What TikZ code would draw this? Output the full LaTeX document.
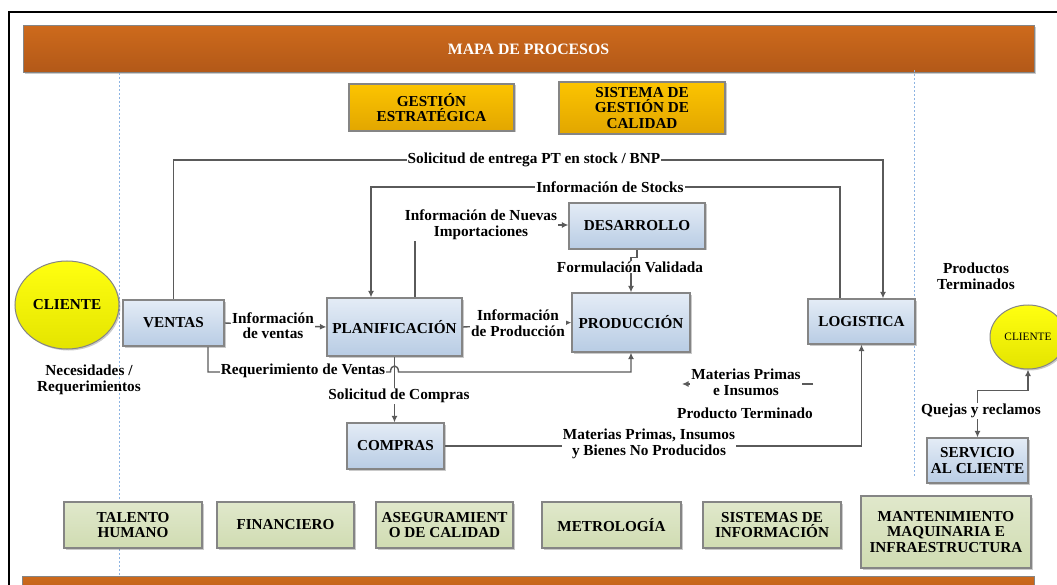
\documentclass[tikz,border=0pt]{standalone}
\usepackage{fontspec}
\setmainfont{Liberation Serif}
\usetikzlibrary{arrows.meta,backgrounds,shadows,shapes.geometric}
\definecolor{linegray}{HTML}{5A5A5A}
\definecolor{boxgray}{HTML}{858585}
\definecolor{orT}{HTML}{CD6A1C}
\definecolor{orB}{HTML}{B25818}
\definecolor{goT}{HTML}{FCC400}
\definecolor{goB}{HTML}{E2A600}
\definecolor{blT}{HTML}{E4ECF6}
\definecolor{blB}{HTML}{B8CCE4}
\definecolor{grT}{HTML}{E0E8CB}
\definecolor{grB}{HTML}{D0DCB2}
\definecolor{yeT}{HTML}{FFFF10}
\definecolor{yeB}{HTML}{E4E400}
\definecolor{dotblue}{HTML}{8DB4E2}
\newcommand\boxfnt{\fontsize{15.2}{15.7}\selectfont\bfseries}
\newcommand\lblfnt{\fontsize{15.3}{15.6}\selectfont\bfseries}
\tikzset{
  shad/.style={drop shadow={shadow xshift=1.5pt,shadow yshift=-1.5pt,opacity=0.35,fill=black!60}},
  basebox/.style={draw=boxgray,line width=1.2pt,align=center,font=\boxfnt,inner sep=0pt,shad},
  bluebox/.style={basebox,top color=blT,bottom color=blB},
  greenbox/.style={basebox,top color=grT,bottom color=grB},
  goldbox/.style={basebox,top color=goT,bottom color=goB},
  clientshape/.style={ellipse,draw=boxgray,line width=1pt,top color=yeT,bottom color=yeB,align=center,inner sep=0pt,shad},
  lbl/.style={font=\lblfnt,align=center,inner sep=1pt,fill=white},
  freetxt/.style={font=\lblfnt,align=center,inner sep=1pt},
  conn/.style={draw=linegray,line width=1.4pt},
  arr/.style={conn,-{Latex[length=6.5pt,width=6pt]}},
  arrboth/.style={conn,{Latex[length=6.5pt,width=6pt]}-{Latex[length=6.5pt,width=6pt]}},
  dotline/.style={draw=dotblue,line width=1pt,dash pattern=on 2pt off 2pt}
}
\begin{document}
\begin{tikzpicture}[x=1pt,y=-1pt]
\useasboundingbox (0,0) rectangle (1057,585);
\clip (0,0) rectangle (1057,585);
% outer frame
\draw[black,line width=2pt] (9,600) -- (9,12) -- (1070,12);
% banners
\node[draw=boxgray,line width=1pt,top color=orT,bottom color=orB,minimum width=1011pt,minimum height=47pt,inner sep=0pt,text=white,font=\fontsize{15.8}{16}\selectfont\bfseries,shad] (banner) at (528.5,49.5) {MAPA DE PROCESOS};
\node[draw=boxgray,line width=1pt,top color=orT,bottom color=orB,minimum width=1012pt,minimum height=30pt,inner sep=0pt] (bottombanner) at (528,591) {};
% dotted separators
\draw[dotline] (119,73) -- (119,576);
\draw[dotline] (914,70) -- (914,477);
% strategic boxes
\node[goldbox,minimum width=165pt,minimum height=47pt] (ge) at (431.5,107.5) {GESTIÓN\\ESTRATÉGICA};
\node[goldbox,minimum width=166pt,minimum height=52pt] (sgc) at (642,108) {SISTEMA DE\\GESTIÓN DE\\CALIDAD};
% clients
\node[clientshape,minimum width=104pt,minimum height=88pt,font=\boxfnt] (cli) at (67,305) {CLIENTE};
\node[clientshape,minimum width=76pt,minimum height=64pt,font=\fontsize{11.3}{12}\selectfont] (cli2) at (1028,337) {CLIENTE};
% core processes
\node[bluebox,minimum width=101pt,minimum height=46pt] (ven) at (173.5,323) {VENTAS};
\node[bluebox,minimum width=135pt,minimum height=58pt] (plan) at (394.5,327) {PLANIFICACIÓN};
\node[bluebox,minimum width=136pt,minimum height=46pt] (des) at (637,226) {DESARROLLO};
\node[bluebox,minimum width=118pt,minimum height=59pt] (prod) at (631,322.5) {PRODUCCIÓN};
\node[bluebox,minimum width=107pt,minimum height=45pt] (log) at (861.5,321.5) {LOGISTICA};
\node[bluebox,minimum width=97pt,minimum height=46pt] (comp) at (395.5,446) {COMPRAS};
\node[bluebox,minimum width=101pt,minimum height=45pt] (serv) at (977.5,460.5) {SERVICIO\\AL CLIENTE};
% support processes
\node[greenbox,minimum width=138pt,minimum height=46pt] (th) at (133,525) {TALENTO\\HUMANO};
\node[greenbox,minimum width=137pt,minimum height=46pt] (fin) at (285.5,525) {FINANCIERO};
\node[greenbox,minimum width=137pt,minimum height=46pt] (aseg) at (444.5,525) {ASEGURAMIENT\\O DE CALIDAD};
\node[greenbox,minimum width=139pt,minimum height=46pt] (metro) at (611.5,525) {METROLOGÍA};
\node[greenbox,minimum width=138pt,minimum height=46pt] (sist) at (772,525) {SISTEMAS DE\\INFORMACIÓN};
\node[greenbox,minimum width=170pt,minimum height=72pt] (mant) at (946,532) {MANTENIMIENTO\\MAQUINARIA E\\INFRAESTRUCTURA};
% connector labels
\node[lbl] (l1) at (534,160) {Solicitud de entrega PT en stock / BNP};
\node[lbl] (l2) at (610,187) {Información de Stocks};
\node[lbl] (l3) at (481,225) {Información de Nuevas\\Importaciones};
\node[lbl] (l4) at (630,267) {Formulación Validada};
\node[lbl] (l5) at (518,323.5) {Información\\de Producción};
\node[lbl] (l6) at (273,325.5) {Información\\de ventas};
\node[lbl] (l7) at (303,371) {Requerimiento de Ventas};
\node[lbl] (l8) at (399,396) {Solicitud de Compras};
\node[lbl] (l9) at (649,444) {Materias Primas, Insumos\\y Bienes No Producidos};
\node[lbl] (l10) at (746,382) {Materias Primas\\e Insumos};
\node[lbl] (l11) at (981,411) {Quejas y reclamos};
% free texts
\node[freetxt] (t1) at (745,413) {Producto Terminado};
\node[freetxt] (t2) at (976,276) {Productos\\Terminados};
\node[freetxt] (t3) at (89,380) {Necesidades /\\Requerimientos};
% helper coordinates
\coordinate (hopc) at (394.5,372);
\coordinate (mpa) at (813,384);
\coordinate (mpb) at (682,384);
% connectors
\begin{scope}[on background layer]
\draw[arr] (ven.north) |- (l1.center) -| ([xshift=21.5pt]log.north);
\draw[arr] ([xshift=-21.5pt]log.north) |- (l2.center) -| ([xshift=-23.5pt]plan.north);
\draw[conn] ([xshift=20.5pt]plan.north) -- ([xshift=20.5pt]plan.north |- l3.south);
\draw[arr] (l3.east) -- (des.west |- l3.east);
\draw[arr] (des.south) -- ([yshift=-8pt]des.south) -| (prod.north);
\draw[arr] (plan.east) -- (prod.west);
\draw[arr] (ven.east) -- (plan.west);
\draw[arr] ([xshift=34.5pt]ven.south) |- ([xshift=-4pt]hopc) .. controls ([xshift=-4pt,yshift=8pt]hopc) and ([xshift=4pt,yshift=8pt]hopc) .. ([xshift=4pt]hopc) -| (prod.south);
\draw[arr] (plan.south) -- (plan.south |- comp.north);
\draw[arr] (comp.east) -| (log.south);
\draw[arr] (mpa) -- (mpb);
\draw[arrboth] (serv.north) -- ([yshift=47pt]serv.north) -| (cli2.south);
\end{scope}
\end{tikzpicture}
\end{document}
